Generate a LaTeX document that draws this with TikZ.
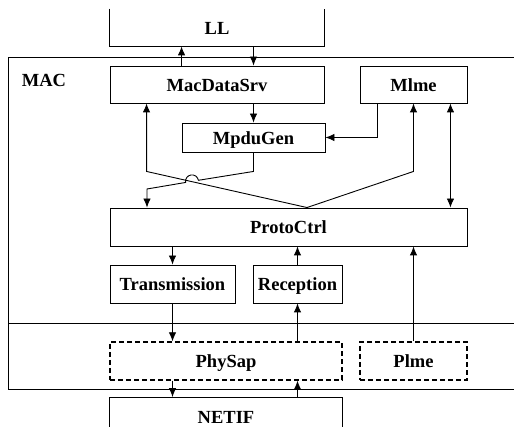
\documentclass[tikz,border=0pt]{standalone}
\usepackage{xcolor}
\usepackage{fontspec}
\setmainfont{Liberation Serif}
\usetikzlibrary{shapes,arrows,arrows.meta}

\begin{document}
\begin{tikzpicture}[x=1pt,y=1pt]
	\tikzstyle{common} = [text badly centered, inner sep=0, text height=14pt, text depth=0pt, font=\fontsize{18.5}{22}\selectfont\bfseries, line width=0.9pt]
	\tikzstyle{block} = [rectangle, draw, common, minimum height=37pt]
	\tikzstyle{dashblock} = [block, dash pattern=on 5pt off 3pt, line width=1.4pt]
	\tikzstyle{open} = [rectangle, common, minimum height=37pt]
	\tikzstyle{line} = [draw, line width=0.9pt, -{Latex[length=9pt,width=7.5pt]}]
	\tikzstyle{wire} = [draw, line width=0.9pt]
	\useasboundingbox (0,0) rectangle (514,427);
	% MAC frame, open to the right
	\draw[wire] (514,370) -- (8,370) -- (8,38) -- (514,38);
	\draw[wire] (8,104) -- (514,104);
	\node[common] (mac) at (44,347) {MAC};
	\node[open, minimum width=214pt] (LL) at (217,399.5) {LL};
	\node[block, minimum width=214pt] (macdata) at (217,342.5) {MacDataSrv};
	\node[block, minimum width=107pt] (mlme) at (413.5,342.5) {Mlme};
	\node[block, minimum width=143pt, minimum height=29pt] (mpdu) at (253.5,289.5) {MpduGen};
	\node[block, minimum width=357pt, minimum height=38pt] (proto) at (288.5,200) {ProtoCtrl};
	\node[block, minimum width=125pt, minimum height=38pt] (trans) at (172.5,143) {Transmission};
	\node[block, minimum width=89pt, minimum height=38pt] (recep) at (297.5,143) {Reception};
	\node[dashblock, minimum width=232pt, minimum height=38pt] (physap) at (226,66) {PhySap};
	\node[dashblock, minimum width=107pt, minimum height=38pt] (plme) at (413.5,66) {Plme};
	\node[open, minimum width=232pt, minimum height=38pt] (netif) at (226,10.5) {NETIF};
	\draw[wire] (LL.north west) -- (LL.south west) -- (LL.south east) -- (LL.north east);
	\draw[wire] (netif.south west) -- (netif.north west) -- (netif.north east) -- (netif.south east);
	\coordinate (apex) at ([xshift=18.5pt]proto.north);
	\coordinate (bendL) at (147,238);
	\draw[line] ([xshift=72pt]macdata.north west) -- ([xshift=72pt]LL.south west);
	\draw[line] (LL.south -| mpdu.north) -- (macdata.north -| mpdu.north);
	\draw[line] (macdata.south -| mpdu.north) -- (mpdu.north);
	\draw[line] ([xshift=18pt]mlme.south west) |- (mpdu.east);
	\draw[line] (apex) -- ([xshift=37pt,yshift=-68pt]macdata.south west) -- ([xshift=37pt]macdata.south west);
	\draw[line] (apex) -- ([yshift=-68pt]mlme.south) -- (mlme.south);
	\draw[line, {Latex[length=9pt,width=7.5pt]}-{Latex[length=9pt,width=7.5pt]}] ([xshift=-17pt]mlme.south east) -- ([xshift=-17pt]mlme.south east |- proto.north);
	\draw[line] (mpdu.south) -- ++(0,-19) -- (198.4,246.7) arc[start angle=9.6, end angle=189.6, radius=6.5] -- (bendL) -- (bendL |- proto.north);
	\draw[line] (proto.south -| trans.north) -- (trans.north);
	\draw[line] (recep.north) -- (proto.south -| recep.north);
	\draw[line] (plme.north) -- (proto.south -| plme.north);
	\draw[line] (trans.south) -- (physap.north -| trans.south);
	\draw[line] (physap.north -| recep.south) -- (recep.south);
	\draw[line] (physap.south -| trans.south) -- (netif.north -| trans.south);
	\draw[line] (netif.north -| recep.south) -- (physap.south -| recep.south);
\end{tikzpicture}
\end{document}
